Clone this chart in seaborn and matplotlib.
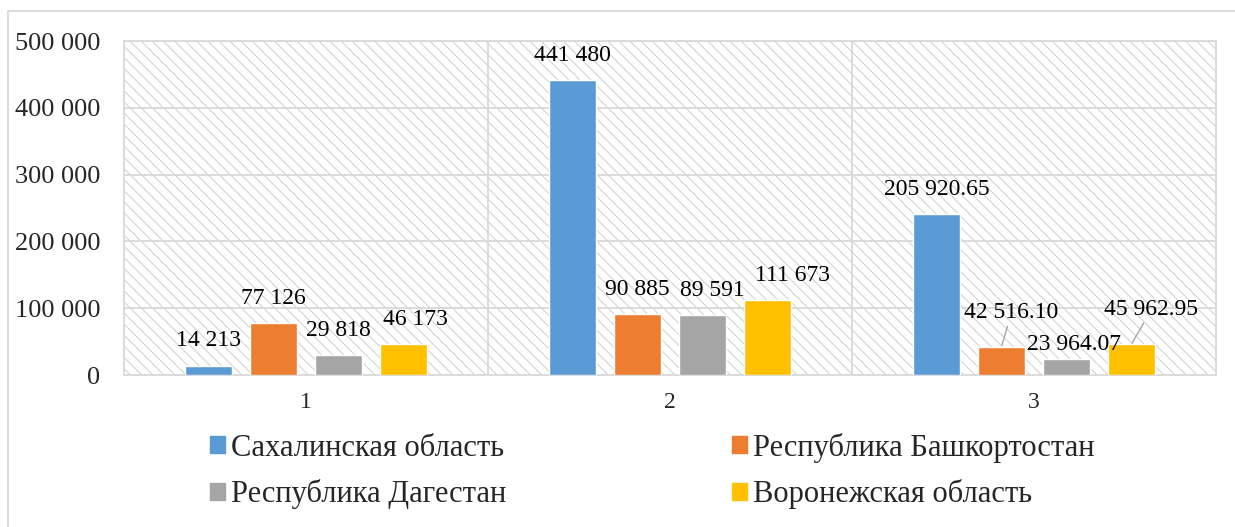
import matplotlib.pyplot as plt
import matplotlib.patches as mpatches
import pandas as pd
import seaborn as sns

# данные
groups = ['1', '2', '3']
regions = ['Сахалинская область', 'Республика Башкортостан',
           'Республика Дагестан', 'Воронежская область']
colors = ['#5B9BD5', '#ED7D31', '#A5A5A5', '#FFC000']

# высоты столбцов (как нарисованы)
sakhalin = [14213, 441480, 241000]
bashkortostan = [77126, 90885, 42516.10]
dagestan = [29818, 89591, 23964.07]
voronezh = [46173, 111673, 45962.95]

# подписи данных
sakhalin_labels = ['14 213', '441 480', '205 920.65']
bashkortostan_labels = ['77 126', '90 885', '42 516.10']
dagestan_labels = ['29 818', '89 591', '23 964.07']
voronezh_labels = ['46 173', '111 673', '45 962.95']

yticks = [0, 100000, 200000, 300000, 400000, 500000]
ytick_labels = ['0', '100 000', '200 000', '300 000', '400 000', '500 000']

series = [sakhalin, bashkortostan, dagestan, voronezh]
labels = [sakhalin_labels, bashkortostan_labels, dagestan_labels, voronezh_labels]

rows = []
for reg, vals in zip(regions, series):
    for g, v in zip(groups, vals):
        rows.append({'group': g, 'region': reg, 'value': v})
df = pd.DataFrame(rows)

sns.set_style('white')
plt.rcParams['font.family'] = ['Liberation Serif', 'DejaVu Serif']
plt.rcParams['hatch.linewidth'] = 0.7

W, H = 1235, 527
fig = plt.figure(figsize=(W / 100, H / 100), dpi=100)
ax = fig.add_axes([124 / W, 1 - 375 / H, (1216 - 124) / W, (375 - 41) / H])

grid_c = '#d9d9d9'

# фон с штриховкой
ax.add_patch(mpatches.Rectangle((0, 0), 1, 1, transform=ax.transAxes,
                                facecolor='white', edgecolor='#cfcfcf',
                                hatch='\\\\\\', lw=0, zorder=0))

sns.barplot(data=df, x='group', y='value', hue='region', hue_order=regions,
            palette=colors, width=0.714, gap=0.29, saturation=1,
            legend=False, ax=ax, zorder=3)

ax.set_ylim(0, 500000)
ax.set_xlim(-0.5, 2.5)
ax.set_yticks(yticks)
ax.set_yticklabels(ytick_labels, fontsize=19)
ax.tick_params(axis='y', length=0, pad=17)
ax.tick_params(axis='x', length=0, pad=12, labelsize=17)
ax.set_xlabel('')
ax.set_ylabel('')

for y in yticks[1:]:
    ax.axhline(y, color=grid_c, lw=1.3, zorder=1)
for x in [0.5, 1.5]:
    ax.axvline(x, color=grid_c, lw=1.3, zorder=1)
for s in ax.spines.values():
    s.set_color(grid_c)
    s.set_linewidth(1.3)

# смещения подписей (в пикселях)
moved = {(3, 0): (12, 25), (2, 1): (10, 25), (3, 1): (25, 25),
         (1, 2): (10, 34), (2, 2): (8, 14), (3, 2): (20, 35)}
leader = {(1, 2), (3, 2)}

for i, cont in enumerate(ax.containers):
    for j, bar in enumerate(cont):
        x = bar.get_x() + bar.get_width() / 2
        h = bar.get_height()
        dx, dy = moved.get((i, j), (0, 25))
        kw = {}
        if (i, j) in leader:
            kw['arrowprops'] = dict(arrowstyle='-', color='#a6a6a6', lw=1,
                                    shrinkA=0, shrinkB=1)
        ax.annotate(labels[i][j], xy=(x, h), xytext=(dx * 0.72, dy * 0.72),
                    textcoords='offset points', ha='center', va='center',
                    fontsize=17, color='black', zorder=5, **kw)

# рамка вокруг диаграммы
fig.add_artist(mpatches.Rectangle((8 / W, -0.1), 1.2, 0.1 + 1 - 11 / H,
                                  transform=fig.transFigure, fill=False,
                                  edgecolor=grid_c, lw=1.3))

handles = [mpatches.Patch(color=colors[k]) for k in [0, 2, 1, 3]]
leg_labels = [regions[k] for k in [0, 2, 1, 3]]
fig.legend(handles, leg_labels, loc='center', ncol=2,
           bbox_to_anchor=(652 / W, 1 - 471 / H), frameon=False,
           fontsize=22, handlelength=0.5, handleheight=0.5,
           handletextpad=0.18, columnspacing=7.4, labelspacing=0.55)

fig.savefig('out.png', dpi=100)
